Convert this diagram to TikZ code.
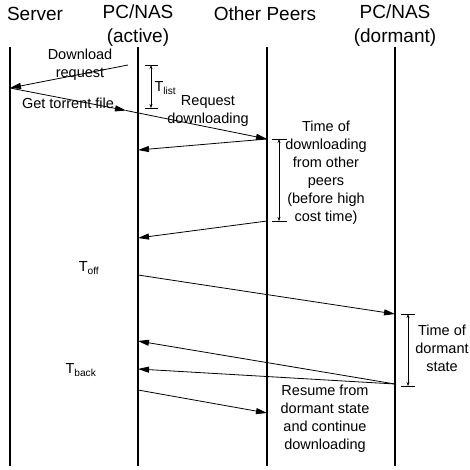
\documentclass[tikz,border=0pt]{standalone}
\usepackage{fontspec}
\setmainfont{Liberation Sans}
\usetikzlibrary{arrows.meta}

\begin{document}
\begin{tikzpicture}[x=1pt,y=-1pt,
  life/.style={line width=1.8pt},
  msg/.style={-{Triangle[length=11pt,width=6pt]},line width=0.8pt},
  span/.style={{Stealth[length=4pt,width=3pt]}-{Stealth[length=4pt,width=3pt]},line width=0.5pt},
  tick/.style={line width=0.6pt},
  head/.style={font=\fontsize{19}{24}\selectfont,align=center},
  txt/.style={font=\fontsize{14.5}{18}\selectfont,align=center}]
\useasboundingbox (0,0) rectangle (469,470);

% Positions des lignes de vie
\def\xsrv{10}
\def\xpc{138}
\def\xpeer{267}
\def\xdorm{395}
\def\ytop{47}
\def\ybot{466}

% En-tetes
\node[head] (hsrv) at (35,14) {Server};
\node[head] (hpc) at (\xpc,26) {PC/NAS\\(active)};
\node[head] (hpeer) at (265,14) {Other Peers};
\node[head] (hdorm) at (\xdorm,26) {PC/NAS\\(dormant)};

% Lignes de vie
\draw[life] (\xsrv,\ytop) -- (\xsrv,\ybot);
\draw[life] (\xpc,\ytop) -- (\xpc,\ybot);
\draw[life] (\xpeer,\ytop) -- (\xpeer,\ybot);
\draw[life] (\xdorm,\ytop) -- (\xdorm,\ybot);

% Points des messages
\coordinate (req) at (128,65);
\coordinate (srv1) at (\xsrv,88);
\coordinate (get) at (126,110.5);
\coordinate (peer1) at (\xpeer,139);
\coordinate (pc1) at (\xpc,150);
\coordinate (peer2) at (\xpeer,221);
\coordinate (pc2) at (\xpc,238);
\coordinate (pc3) at (\xpc,275);
\coordinate (dorm1) at (\xdorm,314);
\coordinate (dorm2) at (\xdorm,384);
\coordinate (pc4) at (\xpc,341);
\coordinate (pc5) at (\xpc,369);
\coordinate (pc6) at (\xpc,390);
\coordinate (peer3) at (\xpeer,413);

% Messages
\draw[msg] (req) -- (srv1);
\draw[msg] (srv1) -- (get);
\draw[msg] (get) -- (peer1);
\draw[msg] (peer1) -- (pc1);
\draw[msg] (peer2) -- (pc2);
\draw[msg] (pc3) -- (dorm1);
\draw[msg] (dorm2) -- (pc4);
\draw[msg] (dorm2) -- (pc5);
\draw[msg] (pc6) -- (peer3);

% Textes des messages
\node[txt] (tdl) at (80,65) {Download\\request};
\node[txt] (tget) at (68,103) {Get torrent file};
\node[txt] (treq) at (208,111) {Request\\downloading};

% T_list
\draw[tick] (145,65) -- (158,65);
\draw[tick] (145,108) -- (158,108);
\draw[span] (151,65) -- (151,108);
\node[txt,anchor=west] (tlist) at (151,88) {T\textsubscript{list}};

% Duree de telechargement
\draw[tick] (272,139) -- (287,139);
\draw[tick] (272,221) -- (287,221);
\draw[span] (279,139) -- (279,221);
\node[txt] (tdown) at (326,173) {Time of\\downloading\\from other\\peers\\(before high\\cost time)};

% Etat dormant
\draw[tick] (401,314) -- (415,314);
\draw[tick] (401,386) -- (415,386);
\draw[span] (408,314) -- (408,386);
\node[txt] (tdorm) at (442,348) {Time of\\dormant\\state};

% Instants
\node[txt] (toff) at (89,268) {T\textsubscript{off}};
\node[txt] (tback) at (81,370) {T\textsubscript{back}};

\node[txt] (tres) at (325,419) {Resume from\\dormant state\\and continue\\downloading};
\end{tikzpicture}
\end{document}
